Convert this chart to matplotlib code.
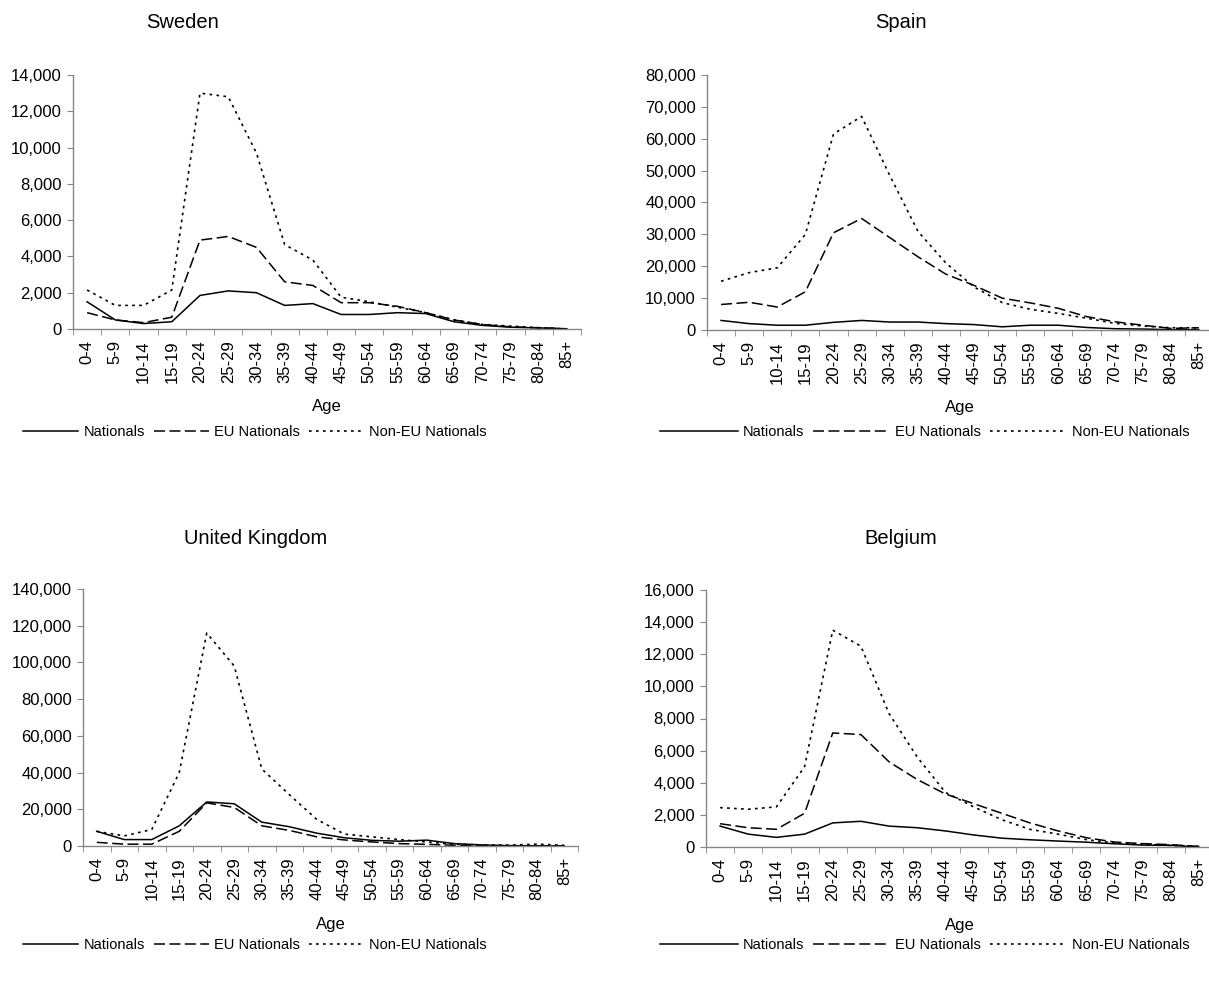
import matplotlib

matplotlib.use("Agg")
import matplotlib.pyplot as plt
import numpy as np
from matplotlib.ticker import FixedLocator, FuncFormatter

plt.rcParams["font.family"] = ["Liberation Sans", "DejaVu Sans"]

FIG_W, FIG_H, DPI = 1209, 986, 100
AXIS_GRAY = "#868686"
TICK_SIZE = 12

AGE_GROUPS = ["0-4", "5-9", "10-14", "15-19", "20-24", "25-29", "30-34", "35-39", "40-44",
              "45-49", "50-54", "55-59", "60-64", "65-69", "70-74", "75-79", "80-84", "85+"]
SERIES_LABELS = ["Nationals", "EU Nationals", "Non-EU Nationals"]

SWEDEN_NATIONALS = [1500, 500, 300, 400, 1850, 2100, 2000, 1300, 1400, 800, 800, 900, 850, 400, 200, 100, 60, 10]
SWEDEN_EU = [900, 500, 350, 650, 4900, 5100, 4500, 2600, 2400, 1450, 1450, 1250, 900, 500, 250, 120, 70, 10]
SWEDEN_NON_EU = [2150, 1300, 1300, 2150, 13000, 12800, 9700, 4650, 3800, 1750, 1500, 1200, 900, 500, 250, 160, 70, 10]

SPAIN_NATIONALS = [3000, 2000, 1500, 1500, 2400, 3000, 2500, 2500, 2000, 1700, 1000, 1500, 1500, 800, 400, 300, 100, 100]
SPAIN_EU = [8000, 8700, 7200, 12000, 30500, 35000, 29000, 23000, 17500, 14000, 10000, 8500, 6800, 4200, 2600, 1500, 500, 700]
SPAIN_NON_EU = [15300, 18000, 19500, 30000, 61500, 67000, 48500, 31000, 21000, 13500, 8600, 6500, 5200, 3700, 2100, 1250, 700, 700]

UK_NATIONALS = [8000, 3500, 3500, 11000, 24000, 23000, 13000, 10500, 7000, 4500, 3100, 2600, 3200, 1300, 600, 200, 100, 0]
UK_EU = [2000, 1000, 1000, 8000, 23500, 21000, 11000, 8500, 5000, 3300, 2200, 1300, 900, 400, 200, 150, 150, 50]
UK_NON_EU = [8000, 5500, 9000, 40000, 116000, 98000, 42000, 28000, 14500, 6500, 5000, 3500, 2200, 900, 550, 500, 1000, 400]

BELGIUM_NATIONALS = [1300, 800, 600, 800, 1500, 1600, 1300, 1200, 1000, 750, 550, 450, 370, 300, 200, 120, 100, 0]
BELGIUM_EU = [1450, 1200, 1100, 2100, 7100, 7000, 5300, 4200, 3300, 2700, 2100, 1500, 1000, 580, 310, 210, 145, 40]
BELGIUM_NON_EU = [2450, 2350, 2500, 5000, 13500, 12500, 8300, 5600, 3400, 2500, 1700, 1100, 800, 460, 250, 170, 100, 40]


def px_rect(left, top, right, bottom):
    return [left / FIG_W, 1 - bottom / FIG_H, (right - left) / FIG_W, (bottom - top) / FIG_H]


def draw_panel(fig, rect, title, title_xy, series, ymax, ystep, legend_xy, handle_len):
    ax = fig.add_axes(rect)
    x = np.arange(len(AGE_GROUPS))
    nationals, eu, non_eu = series

    lines = [
        ax.plot(x, nationals, color="black", lw=1.1)[0],
        ax.plot(x, eu, color="black", lw=1.1, dashes=(7.2, 2.9))[0],
        ax.plot(x, non_eu, color="black", lw=1.2, dashes=(1.6, 2.6))[0],
    ]

    ax.set_xlim(-0.5, len(AGE_GROUPS) - 0.5)
    ax.set_ylim(0, ymax)
    for side in ("top", "right"):
        ax.spines[side].set_visible(False)
    for side in ("left", "bottom"):
        ax.spines[side].set_color(AXIS_GRAY)
        ax.spines[side].set_linewidth(1.0)

    ax.xaxis.set_major_locator(FixedLocator(x))
    ax.set_xticklabels(AGE_GROUPS, rotation=90, va="top", ha="center", fontsize=TICK_SIZE)
    ax.xaxis.set_minor_locator(FixedLocator(np.arange(len(AGE_GROUPS) + 1) - 0.5))
    ax.tick_params(axis="x", which="major", length=0, pad=8)
    ax.tick_params(axis="x", which="minor", length=4, color=AXIS_GRAY, direction="out")

    ax.set_yticks(np.arange(0, ymax + 1, ystep))
    ax.yaxis.set_major_formatter(FuncFormatter(lambda v, _: f"{v:,.0f}"))
    ax.tick_params(axis="y", length=4, color=AXIS_GRAY, direction="out", pad=4, labelsize=TICK_SIZE)

    ax.set_xlabel("Age", fontsize=TICK_SIZE)
    ax.xaxis.set_label_coords(0.5, -0.275)

    fig.text(title_xy[0] / FIG_W, 1 - title_xy[1] / FIG_H, title,
             ha="center", va="center", fontsize=14.5)

    fig.legend(lines, SERIES_LABELS, loc="center",
               bbox_to_anchor=(legend_xy[0] / FIG_W, 1 - legend_xy[1] / FIG_H),
               ncol=3, frameon=False, fontsize=10.5, handlelength=handle_len,
               handletextpad=0.35, columnspacing=0.6, borderpad=0)
    return ax


def main():
    fig = plt.figure(figsize=(FIG_W / DPI, FIG_H / DPI), dpi=DPI)
    fig.patch.set_facecolor("white")

    draw_panel(fig, px_rect(73, 75, 581, 329), "Sweden", (183, 23),
               (SWEDEN_NATIONALS, SWEDEN_EU, SWEDEN_NON_EU), 14000, 2000, (255, 432), 3.8)
    draw_panel(fig, px_rect(707, 75, 1213, 330), "Spain", (901, 23),
               (SPAIN_NATIONALS, SPAIN_EU, SPAIN_NON_EU), 80000, 10000, (925, 432), 5.3)
    draw_panel(fig, px_rect(83, 589, 578, 846), "United Kingdom", (256, 538),
               (UK_NATIONALS, UK_EU, UK_NON_EU), 140000, 20000, (255, 945), 3.8)
    draw_panel(fig, px_rect(706, 590, 1213, 847), "Belgium", (901, 538),
               (BELGIUM_NATIONALS, BELGIUM_EU, BELGIUM_NON_EU), 16000, 2000, (925, 945), 5.3)

    fig.savefig("out.png", dpi=DPI, facecolor="white")
    plt.close(fig)


if __name__ == "__main__":
    main()
